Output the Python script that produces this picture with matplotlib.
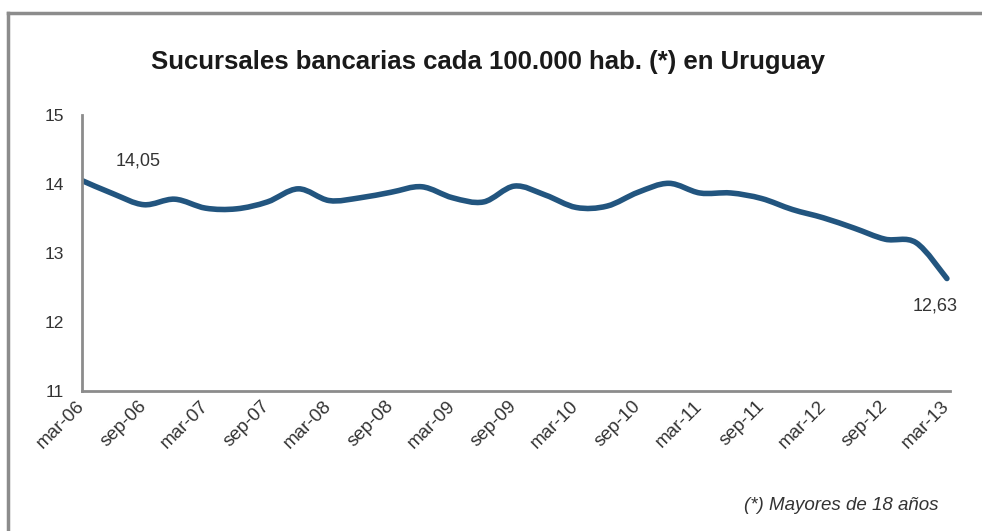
import matplotlib.pyplot as plt
from matplotlib.path import Path
from matplotlib.patches import PathPatch
from matplotlib.lines import Line2D

plt.rcParams['font.family'] = ['Liberation Sans', 'DejaVu Sans']

# quarterly values, mar-06 .. mar-13
quarters = ['mar-06', 'jun-06', 'sep-06', 'dic-06', 'mar-07', 'jun-07', 'sep-07', 'dic-07',
            'mar-08', 'jun-08', 'sep-08', 'dic-08', 'mar-09', 'jun-09', 'sep-09', 'dic-09',
            'mar-10', 'jun-10', 'sep-10', 'dic-10', 'mar-11', 'jun-11', 'sep-11', 'dic-11',
            'mar-12', 'jun-12', 'sep-12', 'dic-12', 'mar-13']
values = [14.05, 13.86, 13.70, 13.78, 13.65, 13.64, 13.74, 13.93,
          13.76, 13.80, 13.88, 13.96, 13.80, 13.74, 13.97, 13.84,
          13.66, 13.68, 13.88, 14.01, 13.87, 13.87, 13.79, 13.63,
          13.51, 13.36, 13.20, 13.15, 12.63]
tick_labels = quarters[::2]

fig = plt.figure(figsize=(9.82, 5.31), dpi=100)
ax = fig.add_axes([82/982, 1 - 391/531, (950 - 82)/982, (391 - 115)/531])

# smooth curve through the points (catmull-rom -> bezier)
xs = list(range(len(values)))
verts = [(xs[0], values[0])]
codes = [Path.MOVETO]
n = len(values)
for i in range(n - 1):
    p0 = (xs[max(i - 1, 0)], values[max(i - 1, 0)])
    p1 = (xs[i], values[i])
    p2 = (xs[i + 1], values[i + 1])
    p3 = (xs[min(i + 2, n - 1)], values[min(i + 2, n - 1)])
    c1 = (p1[0] + (p2[0] - p0[0]) / 6, p1[1] + (p2[1] - p0[1]) / 6)
    c2 = (p2[0] - (p3[0] - p1[0]) / 6, p2[1] - (p3[1] - p1[1]) / 6)
    verts += [c1, c2, p2]
    codes += [Path.CURVE4] * 3
ax.add_patch(PathPatch(Path(verts, codes), fill=False, edgecolor='#22557f',
                       lw=4, capstyle='round', joinstyle='round'))

ax.set_xlim(0, 28.1)
ax.set_ylim(11, 15)
ax.set_yticks([11, 12, 13, 14, 15])
ax.set_xticks(xs[::2])
ax.set_xticklabels(tick_labels, rotation=45, ha='right', va='center',
                   rotation_mode='anchor', fontsize=13.5, color='#333333')
ax.tick_params(axis='y', length=0, pad=13, labelsize=12.5, labelcolor='#333333')
ax.tick_params(axis='x', length=0, pad=9)
for s in ['top', 'right']:
    ax.spines[s].set_visible(False)
for s in ['left', 'bottom']:
    ax.spines[s].set_color('#8c8c8c')
    ax.spines[s].set_linewidth(2)

ax.annotate('14,05', (xs[0], values[0]), xytext=(56, 20), textcoords='offset pixels',
            ha='center', va='center', fontsize=13, color='#333333')
ax.annotate('12,63', (xs[-1], values[-1]), xytext=(-12, -27), textcoords='offset pixels',
            ha='center', va='center', fontsize=13, color='#333333')

fig.text(488/982, 1 - 62/531, 'Sucursales bancarias cada 100.000 hab. (*) en Uruguay',
         ha='center', va='center', fontsize=18.5, fontweight='bold', color='#1a1a1a')
fig.text(938/982, 1 - 506/531, '(*) Mayores de 18 años', ha='right', va='center',
         fontsize=13.5, style='italic', color='#333333')

# outer frame
fig.add_artist(Line2D([8/982, 1], [1 - 13/531, 1 - 13/531], color='#8c8c8c', lw=2.5))
fig.add_artist(Line2D([8/982, 8/982], [0, 1 - 13/531], color='#8c8c8c', lw=2.5))

fig.savefig('out.png', dpi=100)
